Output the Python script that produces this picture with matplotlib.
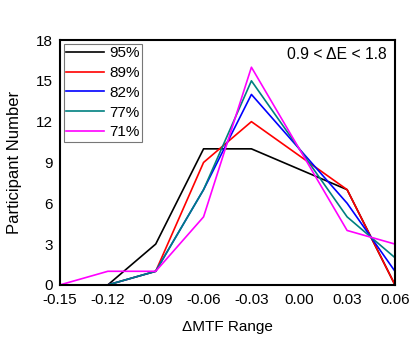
import matplotlib
matplotlib.use('Agg')
from matplotlib import pyplot as plt

# x positions where each series has a value (0.00 has no point; lines run straight across)
mtf_range = [-0.15, -0.12, -0.09, -0.06, -0.03, 0.03, 0.06]
p95 = [0, 0, 3, 10, 10, 7, 0]
p89 = [0, 0, 1, 9, 12, 7, 0]
p82 = [0, 0, 1, 7, 14, 6, 1]
p77 = [0, 0, 1, 7, 15, 5, 2]
p71 = [0, 1, 1, 5, 16, 4, 3]

x_ticks = [-0.15, -0.12, -0.09, -0.06, -0.03, 0.00, 0.03, 0.06]
y_ticks = [0, 3, 6, 9, 12, 15, 18]

plt.rcParams['font.family'] = ['Liberation Sans', 'DejaVu Sans']

fig = plt.figure(figsize=(4.11, 3.42), dpi=100)
ax = fig.add_axes([0.146, 0.167, 0.815, 0.716])

series = [
    (p95, 'black', '95%'),
    (p89, '#ff0000', '89%'),
    (p82, '#0000ff', '82%'),
    (p77, '#008080', '77%'),
    (p71, '#ff00ff', '71%'),
]
for values, color, label in series:
    ax.plot(mtf_range, values, color=color, lw=1.2, label=label)

ax.set_xlim(-0.15, 0.06)
ax.set_ylim(0, 18)
ax.set_xticks(x_ticks)
ax.set_xticklabels(['%.2f' % t for t in x_ticks])
ax.set_yticks(y_ticks)
ax.tick_params(axis='x', length=0, labelsize=11, pad=6)
ax.tick_params(axis='y', length=0, labelsize=11, pad=5)
for spine in ax.spines.values():
    spine.set_linewidth(1.5)

ax.set_xlabel('\u0394MTF Range', fontsize=11, labelpad=9)
ax.set_ylabel('Participant Number', fontsize=12, labelpad=10)

ax.text(0.975, 0.94, '0.9 < \u0394E < 1.8', transform=ax.transAxes,
        ha='right', va='center', fontsize=11.3)

leg = ax.legend(loc='upper left', fontsize=11, frameon=True, fancybox=False,
                handlelength=2.5, handletextpad=0.3, labelspacing=0.38,
                borderpad=0.15, borderaxespad=0.25)
leg.get_frame().set_edgecolor('#555555')
leg.get_frame().set_linewidth(0.8)

fig.savefig('out.png', dpi=100)
